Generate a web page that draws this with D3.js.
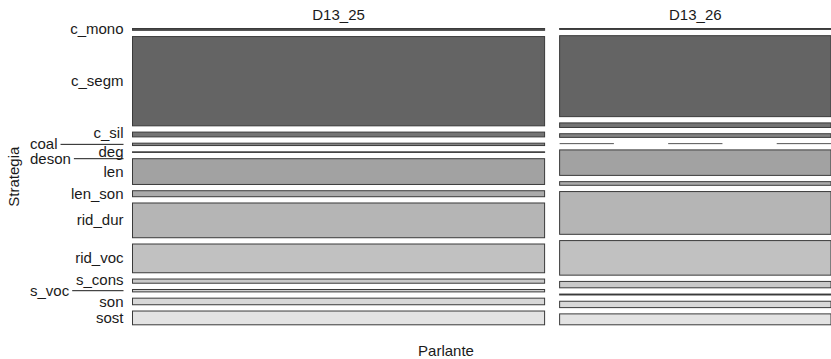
<!DOCTYPE html>
<html><head><meta charset="utf-8">
<script src="https://cdn.jsdelivr.net/npm/d3@7"></script>
<style>
body{margin:0;background:#fff}
text{font-family:"Liberation Sans",Arial,Helvetica,sans-serif;font-size:15px;fill:#1a1a1a}
</style>
</head><body><svg id="c" width="831" height="359"></svg>
<script>
// ---- data ----
const parlanti = ["D13_25", "D13_26"];
const strategie = ["c_mono","c_segm","c_sil","coal","deg","deson","len","len_son","rid_dur","rid_voc","s_cons","s_voc","son","sost"];
// counts per Strategia within each Parlante (null = level absent, 0 = empty cell)
const conteggi_D13_25 = [3, 149, 8, 4, 1, null, 43, 10, 58, 48, 7, 4, 11, 23];
const conteggi_D13_26 = [1, 89, 5, 4, 0, null, 28, 4, 47, 38, 7, 1, 7, 12];
const grigi = ["#4d4d4d","#646464","#747474","#848484","#929292","#9e9e9e","#a2a2a2","#ababab","#b5b5b5","#c1c1c1","#c9c9c9","#d1d1d1","#d8d8d8","#e3e3e3"];
const xTitolo = "Parlante", yTitolo = "Strategia";

// ---- layout ----
const svg = d3.select("#c");
const plot = {left: 132.5, right: 831, top: 28.5, bottom: 324.8};
const offX = 0.0215, offY = 0.254;
const series = [conteggi_D13_25, conteggi_D13_26];
const totals = series.map(s => d3.sum(s.filter(v => v != null)));
const grand = d3.sum(totals);
const pw = plot.right - plot.left, ph = plot.bottom - plot.top;
const whiteX = offX * pw / Math.max(1, parlanti.length - 1);
const xScale = d3.scaleLinear().domain([0, grand]).range([0, (1 - offX) * pw]);

let xc = plot.left;
const cols = parlanti.map((p, i) => {
  const x0 = xc, x1 = xc + xScale(totals[i]);
  xc = x1 + whiteX;
  const vals = series[i];
  const present = vals.filter(v => v != null).length;
  const whiteY = offY * ph / Math.max(1, present - 1);
  const yScale = d3.scaleLinear().domain([0, totals[i]]).range([0, (1 - offY) * ph]);
  let yc = plot.top;
  const cells = strategie.map((s, j) => {
    const v = vals[j];
    if (v == null) return {s, j, v, y0: yc, y1: yc, mid: yc};
    const y0 = yc, y1 = yc + yScale(v);
    yc = y1 + whiteY;
    return {s, j, v, y0, y1, mid: (y0 + y1) / 2};
  });
  return {p, x0, x1, cells};
});

// tiles
cols.forEach(c => {
  const g = svg.append("g");
  g.selectAll("rect").data(c.cells.filter(d => d.v > 0)).join("rect")
    .attr("x", c.x0).attr("width", c.x1 - c.x0)
    .attr("y", d => d.y0).attr("height", d => d.y1 - d.y0)
    .attr("fill", d => grigi[d.j]).attr("stroke", "#3a3a3a").attr("stroke-width", 1);
  // empty cells: three short segments
  c.cells.filter(d => d.v === 0).forEach(d => {
    [0, 2, 4].forEach(k => {
      const w = (c.x1 - c.x0) / 5;
      g.append("line").attr("x1", c.x0 + k * w).attr("x2", c.x0 + (k + 1) * w)
        .attr("y1", d.y0).attr("y2", d.y0).attr("stroke", "#555").attr("stroke-width", 1);
    });
  });
  svg.append("text").attr("x", (c.x0 + c.x1) / 2).attr("y", 19.5)
    .attr("text-anchor", "middle").text(c.p);
});

// left labels (positions from first column, crowded ones moved out with a leader line)
const first = cols[0].cells;
let lastRight = -1e9;
const labs = first.map(d => {
  const side = (d.mid - lastRight < 14) ? "out" : "in";
  if (side === "in") lastRight = d.mid;
  return {s: d.s, y: d.mid, side};
});
const leaders = labs.filter(l => l.side === "out").map(l => l.y);
const clear = 11;
labs.filter(l => l.side === "in").forEach(l => {
  const above = leaders.filter(y => y < l.y && l.y - y < clear);
  const below = leaders.filter(y => y >= l.y && y - l.y < clear);
  if (above.length && below.length) {
    l.y = (d3.max(above) + d3.min(below)) / 2;
  } else if (below.length) {
    l.y = d3.min(below) - clear;
  } else if (above.length) {
    l.y = d3.max(above) + clear;
  }
});
const labelRight = 123.5, outLeft = 30;
labs.forEach(l => {
  if (l.side === "in") {
    svg.append("text").attr("x", labelRight).attr("y", l.y + 5)
      .attr("text-anchor", "end").text(l.s);
  } else {
    const t = svg.append("text").attr("x", outLeft).attr("y", l.y + 5).text(l.s);
    const w = t.node().getComputedTextLength();
    svg.append("line").attr("x1", outLeft + w + 3).attr("x2", labelRight)
      .attr("y1", l.y).attr("y2", l.y).attr("stroke", "#1a1a1a").attr("stroke-width", 1);
  }
});

// axis titles
svg.append("text").attr("x", 446).attr("y", 356).attr("text-anchor", "middle").text(xTitolo);
svg.append("text").attr("transform", `translate(18.5,${(plot.top + plot.bottom) / 2}) rotate(-90)`)
  .attr("text-anchor", "middle").text(yTitolo);
</script>
</body></html>
